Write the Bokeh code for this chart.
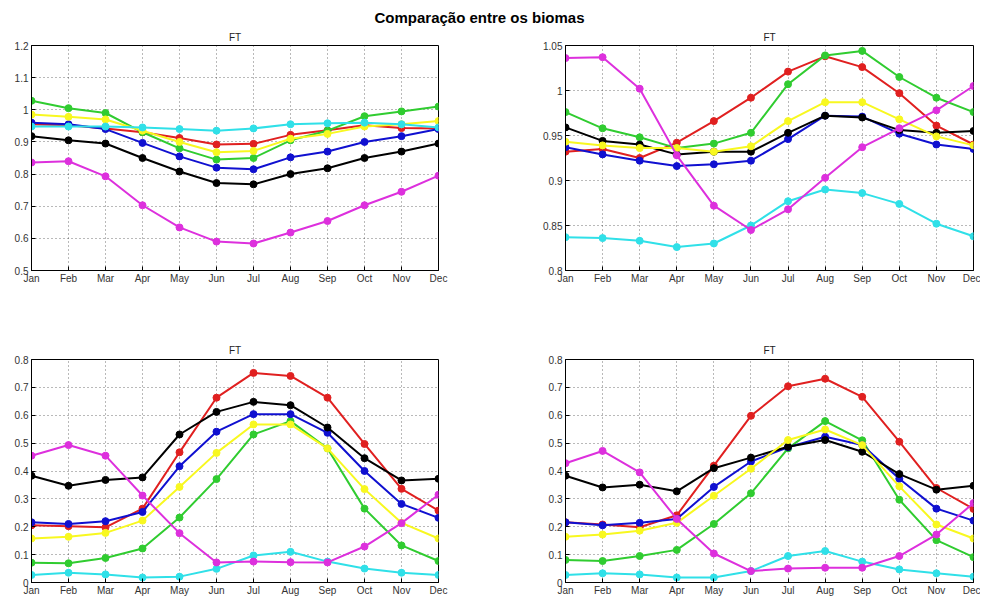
from bokeh.plotting import figure
from bokeh.layouts import column, row
from bokeh.models import Range1d, FixedTicker, Label
from bokeh.embed import file_html
from bokeh.resources import INLINE

months = ["Jan", "Feb", "Mar", "Apr", "May", "Jun", "Jul", "Aug", "Sep", "Oct", "Nov", "Dec"]
month_idx = list(range(1, 13))

series_names = ["red", "green", "blue", "black", "yellow", "cyan", "magenta"]
series_colors = ["#e02020", "#30cc30", "#1010d0", "#000000", "#f8f820", "#30e0e8", "#dd30dd"]

# Panel 1 (top left)
p1_red = [0.955, 0.952, 0.942, 0.930, 0.912, 0.892, 0.894, 0.922, 0.936, 0.952, 0.943, 0.942]
p1_green = [1.028, 1.005, 0.990, 0.930, 0.880, 0.845, 0.850, 0.905, 0.935, 0.980, 0.995, 1.010]
p1_blue = [0.960, 0.955, 0.940, 0.897, 0.855, 0.820, 0.815, 0.852, 0.870, 0.900, 0.918, 0.940]
p1_black = [0.918, 0.905, 0.895, 0.850, 0.808, 0.772, 0.768, 0.800, 0.818, 0.850, 0.870, 0.895]
p1_yellow = [0.985, 0.978, 0.970, 0.935, 0.900, 0.868, 0.872, 0.910, 0.925, 0.948, 0.955, 0.965]
p1_cyan = [0.948, 0.948, 0.948, 0.945, 0.940, 0.935, 0.942, 0.955, 0.958, 0.960, 0.955, 0.945]
p1_magenta = [0.836, 0.840, 0.793, 0.703, 0.634, 0.590, 0.584, 0.618, 0.654, 0.703, 0.745, 0.795]

# Panel 2 (top right)
p2_red = [0.932, 0.935, 0.925, 0.942, 0.966, 0.992, 1.021, 1.038, 1.026, 0.997, 0.961, 0.940]
p2_green = [0.976, 0.958, 0.948, 0.936, 0.941, 0.953, 1.007, 1.039, 1.044, 1.015, 0.992, 0.976]
p2_blue = [0.937, 0.929, 0.922, 0.916, 0.918, 0.922, 0.946, 0.972, 0.971, 0.952, 0.940, 0.935]
p2_black = [0.959, 0.944, 0.940, 0.929, 0.932, 0.932, 0.953, 0.972, 0.970, 0.956, 0.953, 0.955]
p2_yellow = [0.943, 0.939, 0.936, 0.936, 0.932, 0.938, 0.966, 0.987, 0.987, 0.968, 0.949, 0.939]
p2_cyan = [0.837, 0.836, 0.833, 0.826, 0.830, 0.850, 0.877, 0.890, 0.886, 0.874, 0.852, 0.838]
p2_magenta = [1.036, 1.037, 1.002, 0.928, 0.872, 0.845, 0.868, 0.903, 0.937, 0.958, 0.978, 1.005]

# Panel 3 (bottom left)
p3_red = [0.205, 0.202, 0.198, 0.265, 0.467, 0.663, 0.752, 0.741, 0.663, 0.497, 0.336, 0.258]
p3_green = [0.071, 0.069, 0.088, 0.122, 0.233, 0.371, 0.531, 0.579, 0.481, 0.265, 0.133, 0.077]
p3_blue = [0.216, 0.210, 0.220, 0.253, 0.417, 0.541, 0.604, 0.604, 0.537, 0.400, 0.282, 0.232]
p3_black = [0.383, 0.347, 0.368, 0.377, 0.531, 0.612, 0.648, 0.636, 0.556, 0.446, 0.366, 0.372]
p3_yellow = [0.158, 0.164, 0.178, 0.222, 0.343, 0.465, 0.567, 0.567, 0.481, 0.335, 0.214, 0.158]
p3_cyan = [0.027, 0.035, 0.029, 0.018, 0.021, 0.049, 0.097, 0.110, 0.075, 0.050, 0.035, 0.027]
p3_magenta = [0.455, 0.493, 0.455, 0.312, 0.177, 0.072, 0.075, 0.073, 0.072, 0.129, 0.213, 0.315]

# Panel 4 (bottom right)
p4_red = [0.216, 0.208, 0.198, 0.241, 0.419, 0.598, 0.704, 0.731, 0.666, 0.505, 0.339, 0.264]
p4_green = [0.081, 0.077, 0.095, 0.117, 0.210, 0.320, 0.481, 0.579, 0.510, 0.297, 0.152, 0.091]
p4_blue = [0.216, 0.205, 0.214, 0.228, 0.343, 0.434, 0.485, 0.523, 0.493, 0.372, 0.265, 0.222]
p4_black = [0.383, 0.341, 0.351, 0.327, 0.410, 0.448, 0.487, 0.511, 0.469, 0.389, 0.333, 0.347]
p4_yellow = [0.164, 0.172, 0.186, 0.214, 0.311, 0.408, 0.511, 0.549, 0.493, 0.345, 0.208, 0.158]
p4_cyan = [0.027, 0.033, 0.029, 0.018, 0.018, 0.041, 0.095, 0.113, 0.075, 0.047, 0.033, 0.021]
p4_magenta = [0.428, 0.472, 0.395, 0.228, 0.104, 0.041, 0.050, 0.053, 0.053, 0.095, 0.172, 0.285]

yticks_top_left = [0.5, 0.6, 0.7, 0.8, 0.9, 1.0, 1.1, 1.2]
ylabels_top_left = ["0.5", "0.6", "0.7", "0.8", "0.9", "1", "1.1", "1.2"]
yticks_top_right = [0.8, 0.85, 0.9, 0.95, 1.0, 1.05]
ylabels_top_right = ["0.8", "0.85", "0.9", "0.95", "1", "1.05"]
yticks_bottom = [0.0, 0.1, 0.2, 0.3, 0.4, 0.5, 0.6, 0.7, 0.8]
ylabels_bottom = ["0", "0.1", "0.2", "0.3", "0.4", "0.5", "0.6", "0.7", "0.8"]

main_title = "Comparação entre os biomas"
panel_title = "FT"

FONT = "Liberation Sans"
TICK_COLOR = "#333333"


def style_axis(ax):
    ax.major_tick_in = 4
    ax.major_tick_out = 0
    ax.minor_tick_in = 0
    ax.minor_tick_out = 0
    ax.axis_line_color = "black"
    ax.major_tick_line_color = "black"
    ax.major_label_text_font = FONT
    ax.major_label_text_font_size = "10px"
    ax.major_label_text_color = TICK_COLOR


def make_panel(series, yticks, ylabels, width, height, bl, br, bt, bb, title_gap):
    p = figure(width=width, height=height, output_backend="svg", toolbar_location=None,
               x_range=Range1d(1, 12), y_range=Range1d(yticks[0], yticks[-1]),
               min_border_left=bl, min_border_right=br, min_border_top=bt, min_border_bottom=bb,
               title=panel_title)
    p.title.align = "center"
    p.title.text_font = FONT
    p.title.text_font_size = "10px"
    p.title.text_font_style = "normal"
    p.title.text_color = "#222222"
    p.title.standoff = title_gap
    p.background_fill_color = "white"
    p.border_fill_color = "white"
    p.outline_line_color = "black"
    p.outline_line_width = 1
    p.xaxis.ticker = FixedTicker(ticks=month_idx)
    p.xaxis.major_label_overrides = {i: m for i, m in zip(month_idx, months)}
    p.yaxis.ticker = FixedTicker(ticks=yticks)
    p.yaxis.major_label_overrides = {t: l for t, l in zip(yticks, ylabels)}
    style_axis(p.xaxis[0])
    style_axis(p.yaxis[0])
    p.xaxis.major_label_standoff = 2
    p.yaxis.major_label_standoff = 3
    for g in (p.xgrid, p.ygrid):
        g.grid_line_color = "black"
        g.grid_line_alpha = 0.55
        g.grid_line_dash = "1 3"
        g.grid_line_width = 1
    for vals, col in zip(series, series_colors):
        p.line(month_idx, vals, line_color=col, line_width=2)
        p.scatter(month_idx, vals, size=7, fill_color=col, line_color=col)
    return p


title_fig = figure(width=980, height=26, output_backend="svg", toolbar_location=None,
                   x_range=Range1d(0, 980), y_range=Range1d(0, 26),
                   min_border_left=0, min_border_right=0, min_border_top=0, min_border_bottom=0)
title_fig.axis.visible = False
title_fig.grid.visible = False
title_fig.outline_line_color = None
title_fig.add_layout(Label(x=479, y=9.5, text=main_title, text_align="center", text_baseline="middle",
                           text_font=FONT, text_font_size="15px", text_font_style="bold",
                           text_color="black"))

s1 = [p1_red, p1_green, p1_blue, p1_black, p1_yellow, p1_cyan, p1_magenta]
s2 = [p2_red, p2_green, p2_blue, p2_black, p2_yellow, p2_cyan, p2_magenta]
s3 = [p3_red, p3_green, p3_blue, p3_black, p3_yellow, p3_cyan, p3_magenta]
s4 = [p4_red, p4_green, p4_blue, p4_black, p4_yellow, p4_cyan, p4_magenta]

p1 = make_panel(s1, yticks_top_left, ylabels_top_left, 491, 272, 31, 53, 18, 28, 6)
p2 = make_panel(s2, yticks_top_right, ylabels_top_right, 489, 272, 74, 7, 18, 28, 6)
p3 = make_panel(s3, yticks_bottom, ylabels_bottom, 491, 300, 31, 53, 61, 15, 7)
p4 = make_panel(s4, yticks_bottom, ylabels_bottom, 489, 300, 74, 7, 61, 15, 7)

layout = column(title_fig, row(p1, p2), row(p3, p4))

open("out.html", "w").write(file_html(layout, INLINE))
